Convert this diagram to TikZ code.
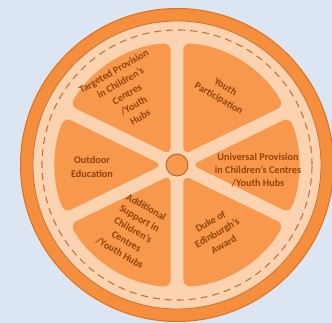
\documentclass[tikz,border=0pt]{standalone}
\usepackage{fontspec}
\setmainfont{Carlito}
\usetikzlibrary{calc}
\definecolor{bgblue}{RGB}{220,230,242}
\definecolor{ringor}{RGB}{245,143,62}
\definecolor{ringedge}{RGB}{222,112,30}
\definecolor{peach}{RGB}{252,211,176}
\definecolor{segor}{RGB}{247,152,76}
\definecolor{dashcol}{RGB}{186,118,66}
\definecolor{txtbrown}{RGB}{145,68,10}
\definecolor{hubedge}{RGB}{180,104,46}
\newcommand{\segpath}[2]{%
  \fill[segfill] ($(C)+({(#1+#2)/2}:{6.5/sin((#2-#1)/2)})$) -- ($(C)+({#1+3}:122)$)
    arc[start angle={#1+3}, end angle={#2-3}, radius=122] -- cycle;}
\tikzset{
  segfill/.style={fill=segor, rounded corners=7pt},
  lbl/.style={text=txtbrown, font=\fontsize{10.2}{13.2}\selectfont\bfseries, align=center, inner sep=0pt}
}
\begin{document}
\begin{tikzpicture}[x=1pt,y=1pt]
\useasboundingbox (0,0) rectangle (332,323);
\clip (0,0) rectangle (332,323);
\fill[bgblue] (0,0) rectangle (332,323);
\coordinate (C) at (177,158);
\fill[ringor, draw=ringedge, line width=1pt] (C) circle[radius=156.5];
\fill[peach, draw=hubedge!70!ringor, line width=0.8pt] (C) circle[radius=144];
\draw[dashcol, line width=1.1pt, dash pattern=on 7pt off 5pt] (C) circle[radius=135];
\segpath{26}{90}
\segpath{90}{154}
\segpath{154}{206}
\segpath{206}{270}
\segpath{270}{334}
\segpath{334}{386}
\node[circle, minimum size=22pt, fill=segor, draw=hubedge, line width=0.9pt, inner sep=0pt] (hub) at (C) {};
\node[lbl, rotate=-30] (youth) at (222,230) {Youth\\Participation};
\node[lbl, rotate=30] (targ) at (127,229) {Targeted Provision\\in Children’s\\Centres\\/Youth\\Hubs};
\node[lbl] (outdoor) at (92,156) {Outdoor\\Education};
\node[lbl] (univ) at (258,153) {Universal Provision\\in Children’s Centres\\/Youth Hubs};
\node[lbl, rotate=-30] (addl) at (133,93) {Additional\\Support in\\Children’s\\Centres\\/Youth Hubs};
\node[lbl, rotate=30] (duke) at (217,90) {Duke of\\Edinburgh’s\\Award};
\end{tikzpicture}
\end{document}
